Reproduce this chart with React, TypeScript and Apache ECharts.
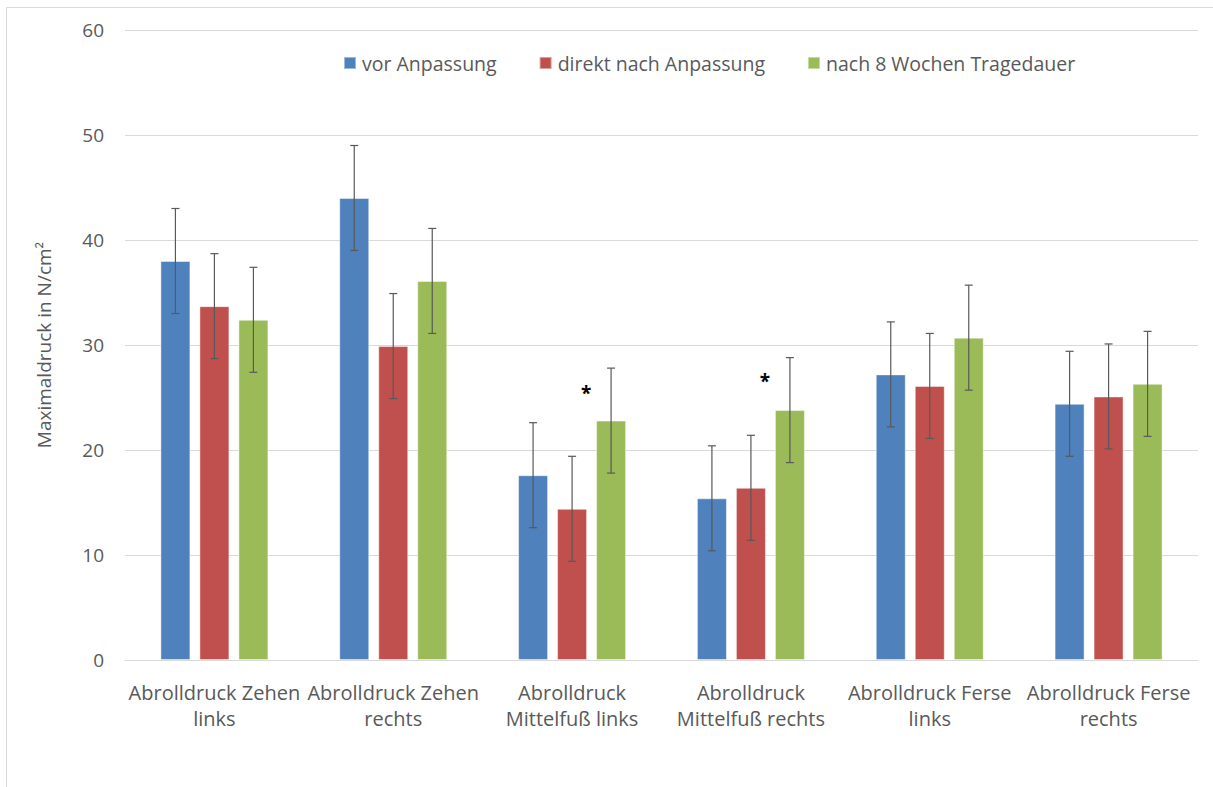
import React, { useEffect, useRef } from "react";
import * as echarts from "echarts";

const categories = [
  "Abrolldruck Zehen\nlinks",
  "Abrolldruck Zehen\nrechts",
  "Abrolldruck\nMittelfuß links",
  "Abrolldruck\nMittelfuß rechts",
  "Abrolldruck Ferse\nlinks",
  "Abrolldruck Ferse\nrechts",
];
const seriesNames = ["vor Anpassung", "direkt nach Anpassung", "nach 8 Wochen Tragedauer"];
const vorValues = [38.0, 44.0, 17.6, 15.4, 27.2, 24.4];
const direktValues = [33.7, 29.9, 14.4, 16.4, 26.1, 25.1];
const nachValues = [32.4, 36.1, 22.8, 23.8, 30.7, 26.3];
const vorErr = [5, 5, 5, 5, 5, 5];
const direktErr = [5, 5, 5, 5, 5, 5];
const nachErr = [5, 5, 5, 5, 5, 5];
const asteriskPoints = [
  { cat: 2, value: 25.4 },
  { cat: 3, value: 26.6 },
];
const colors = ["#4F81BD", "#C0504D", "#9BBB59"];

const FONT = "'Open Sans', sans-serif";

export default function App() {
  const ref = useRef<HTMLDivElement>(null);
  useEffect(() => {
    if (!ref.current) return;
    const chart = echarts.init(ref.current, null, { renderer: "svg" });
    const values = [vorValues, direktValues, nachValues];
    const errs = [vorErr, direktErr, nachErr];
    const barWidth = 30;
    const gap = 9;

    const barSeries: any[] = values.map((vals, i) => ({
      name: seriesNames[i],
      type: "bar",
      data: vals,
      barWidth: barWidth,
      barGap: "30%",
      itemStyle: {
        color: colors[i],
        borderColor: "rgba(255,255,255,0.45)",
        borderWidth: 1,
      },
      markPoint:
        i === 2
          ? {
              symbol: "circle",
              symbolSize: 1,
              itemStyle: { color: "rgba(0,0,0,0)" },
              label: {
                show: true,
                formatter: "*",
                position: "inside",
                offset: [-25, 0],
                color: "#000",
                fontSize: 19,
                fontWeight: "bold",
                fontFamily: FONT,
              },
              data: asteriskPoints.map((p) => ({ coord: [p.cat, p.value], value: "*" })),
            }
          : undefined,
    }));

    const errorSeries: any[] = values.map((vals, i) => ({
      type: "custom",
      name: seriesNames[i] + " Fehler",
      z: 10,
      data: vals.map((v, j) => [j, v - errs[i][j], v + errs[i][j]]),
      renderItem: (params: any, api: any) => {
        const cat = api.value(0);
        const lo = api.coord([cat, api.value(1)]);
        const hi = api.coord([cat, api.value(2)]);
        const x = lo[0] + (i - 1) * (barWidth + gap);
        const cap = 4;
        const style = { stroke: "#595959", lineWidth: 1.2 };
        return {
          type: "group",
          children: [
            { type: "line", shape: { x1: x, y1: lo[1], x2: x, y2: hi[1] }, style },
            { type: "line", shape: { x1: x - cap, y1: hi[1], x2: x + cap, y2: hi[1] }, style },
            { type: "line", shape: { x1: x - cap, y1: lo[1], x2: x + cap, y2: lo[1] }, style },
          ],
        };
      },
    }));

    chart.setOption({
      animation: false,
      textStyle: { fontFamily: FONT },
      graphic: [
        {
          type: "rect",
          shape: { x: 6.5, y: 7.5, width: 1300, height: 900 },
          style: { fill: "none", stroke: "#d9d9d9", lineWidth: 1 },
          silent: true,
        },
      ],
      legend: {
        data: seriesNames,
        top: 48,
        left: 338,
        itemWidth: 12,
        itemHeight: 12,
        itemGap: 42,
        icon: "rect",
        textStyle: { color: "#595959", fontSize: 19.5, fontFamily: FONT, padding: [0, 0, 0, 1] },
      },
      grid: { left: 125, right: 15, top: 30, bottom: 127, containLabel: false },
      xAxis: {
        type: "category",
        data: categories,
        axisLine: { lineStyle: { color: "#d9d9d9" } },
        axisTick: { show: false },
        axisLabel: {
          color: "#595959",
          fontSize: 20,
          fontFamily: FONT,
          lineHeight: 26,
          margin: 19,
          interval: 0,
        },
      },
      yAxis: {
        type: "value",
        min: 0,
        max: 60,
        interval: 10,
        name: "Maximaldruck in N/cm²",
        nameLocation: "middle",
        nameGap: 72,
        nameTextStyle: { color: "#595959", fontSize: 19, fontFamily: FONT },
        axisLine: { show: false },
        axisTick: { show: false },
        axisLabel: { color: "#595959", fontSize: 19, fontFamily: FONT, margin: 21 },
        splitLine: { lineStyle: { color: "#d9d9d9", width: 1 } },
      },
      series: [...barSeries, ...errorSeries],
    });
    return () => chart.dispose();
  }, []);
  return (
    <div
      ref={ref}
      style={{ position: "fixed", left: 0, top: 0, width: 1213, height: 787, background: "#fff" }}
    />
  );
}
